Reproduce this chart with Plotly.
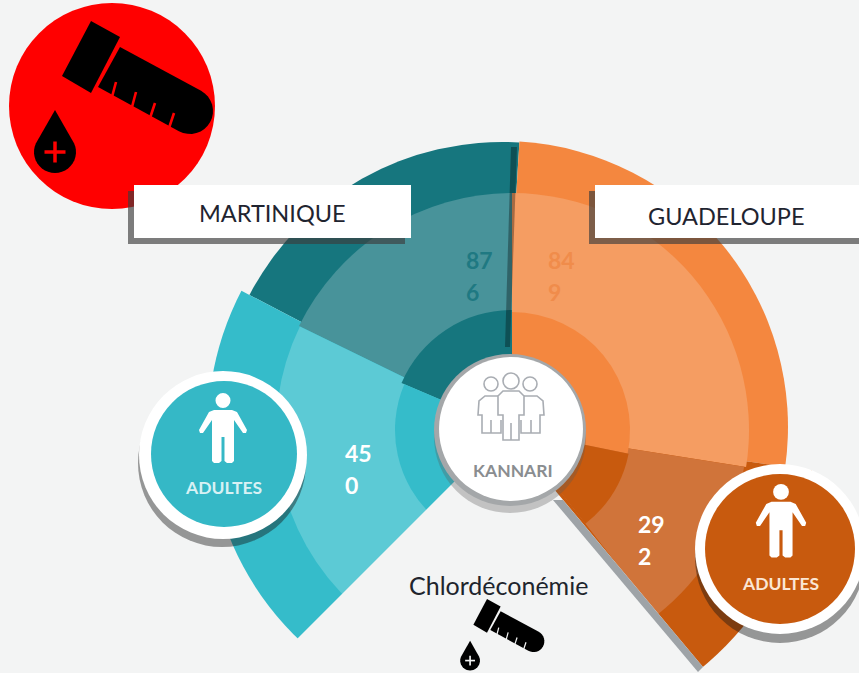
import math
import plotly.graph_objects as go

W, H = 859, 673

# ---- data
categories = ["Martinique", "Martinique adultes", "Guadeloupe", "Guadeloupe adultes"]
values = [876, 450, 849, 292]

# wedge edges, degrees clockwise from the top
outer_start = [-62.4, -137, 3.5, 98]
outer_end = [3.5, -62.4, 98, 141]
outer_radius = [285, 294, 286, 313]

middle_start = [-64, -138, 0, 99]
middle_end = [0, -64, 99, 142]
middle_radius = [237, 236, 237, 235]

inner_start = [-67, -138, 0, 101.5]
inner_end = [0, -67, 101.5, 142]
inner_radius = [120, 117, 118, 119]

colors_strong = ["#16767e", "#35bcca", "#f4873f", "#c85a0e"]
colors_soft = ["#48939a", "#5ccad5", "#f59d62", "#d0743a"]

region_labels = ["MARTINIQUE", "GUADELOUPE"]
circle_label = "KANNARI"
group_label = "ADULTES"
indicator_label = "Chlordéconémie"

BG = "#f3f4f4"
OUTER_CENTER = (502, 427)
RING_CENTER = (512, 430)
OUTER_RANGE = 316
RING_RANGE = 250


def X(x):
    return x / W


def Y(y):
    return 1 - y / H


def P(points, close=True):
    s = "M" + " L".join(f"{X(x):.5f},{Y(y):.5f}" for x, y in points)
    return s + (" Z" if close else "")


shapes = []


def circle(cx, cy, r, fill, line=None, lw=0):
    shapes.append(dict(type="circle", xref="paper", yref="paper", layer="above",
                       x0=X(cx - r), x1=X(cx + r), y0=Y(cy + r), y1=Y(cy - r),
                       fillcolor=fill, line=dict(color=line or fill, width=lw)))


def rect(x0, y0, x1, y1, fill):
    shapes.append(dict(type="rect", xref="paper", yref="paper", layer="above",
                       x0=X(x0), x1=X(x1), y0=Y(y1), y1=Y(y0),
                       fillcolor=fill, line=dict(width=0)))


def poly(points, fill=None, line=None, lw=0, close=True):
    shapes.append(dict(type="path", xref="paper", yref="paper", layer="above",
                       path=P(points, close), fillcolor=fill or "rgba(0,0,0,0)",
                       line=dict(color=line or "rgba(0,0,0,0)", width=lw)))


def person(cx, top, s, fill):
    circle(cx, top + 7.5 * s, 7.5 * s, fill)
    half = [(0, 17), (9, 17), (14, 19), (24, 37), (23, 40), (20, 40), (11, 27),
            (11, 68), (9, 70), (4, 70), (1.5, 68), (1.5, 44), (0, 44)]
    pts = [(cx + a * s, top + b * s) for a, b in half]
    pts += [(cx - a * s, top + b * s) for a, b in reversed(half)]
    poly(pts, fill)


def crowd(color, lw=1.6):
    circle(491, 384, 7, "rgba(0,0,0,0)", color, lw)
    circle(530, 384, 7, "rgba(0,0,0,0)", color, lw)
    circle(511, 381, 8, "rgba(0,0,0,0)", color, lw)
    half = [(0, 391), (8, 391), (13, 396), (13, 415), (8, 415), (8, 440), (0, 440)]
    pts = [(511 + a, y) for a, y in half] + [(511 - a, y) for a, y in reversed(half)]
    poly(pts, None, color, lw)
    poly([(511, 440), (511, 423)], None, color, lw, close=False)
    for sgn in (-1, 1):
        side = [(13, 396), (26, 396), (32, 401), (33, 415), (29, 415), (29, 433),
                (10, 433), (10, 420)]
        poly([(511 + sgn * a, y) for a, y in side], None, color, lw, close=False)
        poly([(511 + sgn * 20, 433), (511 + sgn * 20, 420)], None, color, lw, close=False)


def tube(ox, oy, s, fill, cut):
    def T(p):
        return (ox + (p[0] - 91) * s, oy + (p[1] - 21) * s)

    poly([T(p) for p in [(91, 21), (120, 37), (91, 93), (62, 76)]], fill)
    axis = math.atan2(0.482, 0.877)
    cap = [(190 + 23 * math.cos(axis - math.pi / 2 + math.pi * k / 16),
            111 + 23 * math.sin(axis - math.pi / 2 + math.pi * k / 16)) for k in range(17)]
    poly([T(p) for p in [(120, 47)] + cap + [(98, 87)]], fill)
    for a, b in [((116, 82), (112, 97)), ((136, 92), (132, 107)),
                 ((155, 103), (150, 118)), ((174, 113), (169, 128))]:
        poly([T(a), T(b)], None, cut, max(1.0, 2.6 * s), close=False)
    dx, dy, r = 55, 152, 21
    arc = [(dx + r * math.cos(math.radians(-25 + 230 * k / 24)),
            dy + r * math.sin(math.radians(-25 + 230 * k / 24))) for k in range(25)]
    poly([T(p) for p in [(55, 110)] + arc], fill)
    poly([T((dx - 10.5, dy)), T((dx + 10.5, dy))], None, cut, max(1.2, 3.5 * s), close=False)
    poly([T((dx, dy - 10.5)), T((dx, dy + 10.5))], None, cut, max(1.2, 3.5 * s), close=False)


def wedge_trace(start, end, base, radius, colors, subplot):
    theta = [(a + b) / 2 for a, b in zip(start, end)]
    width = [b - a for a, b in zip(start, end)]
    return go.Barpolar(theta=theta, width=width, base=base, r=radius, subplot=subplot,
                       marker=dict(color=colors, line=dict(width=0)),
                       text=categories, hoverinfo="text")


fig = go.Figure()
fig.add_trace(wedge_trace(outer_start, outer_end, [0] * 4, outer_radius, colors_strong, "polar"))
fig.add_trace(wedge_trace(middle_start, middle_end, [0] * 4, middle_radius, colors_soft, "polar2"))
fig.add_trace(wedge_trace(inner_start, inner_end, [0] * 4, inner_radius, colors_strong, "polar2"))

# the open bottom of the fan
poly([(509, 427), (298, 638), (290, 646), (290, 673), (708, 673), (703, 667), (502, 427)], BG)

# seam and shadows
poly([(511, 147), (517, 147), (510, 347), (505, 347)], "rgba(0,0,0,0.32)")
poly([(553, 500), (563, 500), (703, 667), (698, 672)], "#9ea3a7")

# red badge
circle(112, 106, 103, "#ff0000")
tube(91, 21, 1.0, "#000000", "#ff0000")

# region boxes
rect(128, 191, 405, 244, "rgba(60,60,60,0.65)")
rect(134, 185, 411, 238, "#ffffff")
rect(589, 191, 859, 244, "rgba(60,60,60,0.65)")
rect(595, 185, 859, 238, "#ffffff")

# small indicator icon
tube(487, 599, 0.47, "#000000", BG)

# adult badges
circle(222, 463, 84, "rgba(20,20,20,0.42)")
circle(223, 455, 84, "#ffffff")
circle(224, 454, 73, "#35b8c6")
person(223, 393, 1.0, "#ffffff")

circle(780, 558, 85, "rgba(20,20,20,0.42)")
circle(780, 549, 85, "#ffffff")
circle(780, 549, 75, "#c85a0e")
person(781, 484, 1.05, "#ffffff")

# centre badge
circle(510, 437, 76, "rgba(90,90,90,0.32)")
circle(510, 430, 76, "#a4a7a9")
circle(511, 429, 72, "#ffffff")
crowd("#a9adb3")

annotations = []


def label(text, x, y, size, color, bold=False, anchor="center"):
    annotations.append(dict(text=f"<b>{text}</b>" if bold else text,
                            x=X(x), y=Y(y), xref="paper", yref="paper",
                            xanchor=anchor, yanchor="middle", showarrow=False,
                            font=dict(family="Lato", size=size, color=color)))


label(region_labels[0], 272, 213, 23.5, "#1f2430")
label(region_labels[1], 726, 216, 23.5, "#1f2430")
label(group_label, 224, 487, 17.5, "#d8f1f4", bold=True)
label(group_label, 780, 583, 17.5, "#fbe6d4", bold=True)
label(circle_label, 513, 470, 17.5, "#8a8d90", bold=True)
label(indicator_label, 498, 585, 25, "#20242c")

value_pos = [(464, 260, "#1f7982"), (343, 453, "#ffffff"), (546, 260, "#f08c4b"), (636, 524, "#ffffff")]
for v, (x, y, c) in zip(values, value_pos):
    s = str(v)
    label(s[:2], x, y, 23, c, bold=True, anchor="left")
    label(s[2:], x, y + 32, 23, c, bold=True, anchor="left")


def polar_layout(center, rng, sector, low):
    cx, cy = center
    return dict(
        domain=dict(x=[X(cx - rng), X(cx + rng)], y=[Y(cy + rng * low), Y(cy - rng)]),
        sector=sector, bgcolor="rgba(0,0,0,0)", barmode="overlay",
        radialaxis=dict(visible=False, range=[0, rng]),
        angularaxis=dict(visible=False, direction="clockwise", rotation=90, thetaunit="degrees"),
    )


fig.update_layout(
    width=W, height=H, margin=dict(l=0, r=0, t=0, b=0),
    paper_bgcolor=BG, showlegend=False, autosize=False,
    polar=polar_layout(OUTER_CENTER, OUTER_RANGE, [-51, 227], 0.7771),
    polar2=polar_layout(RING_CENTER, RING_RANGE, [-52, 228], 0.788),
    shapes=shapes, annotations=annotations,
)

fig.write_html("out.html", config=dict(displayModeBar=False),
               post_script="document.body.style.margin='0';document.body.style.overflow='hidden';")
